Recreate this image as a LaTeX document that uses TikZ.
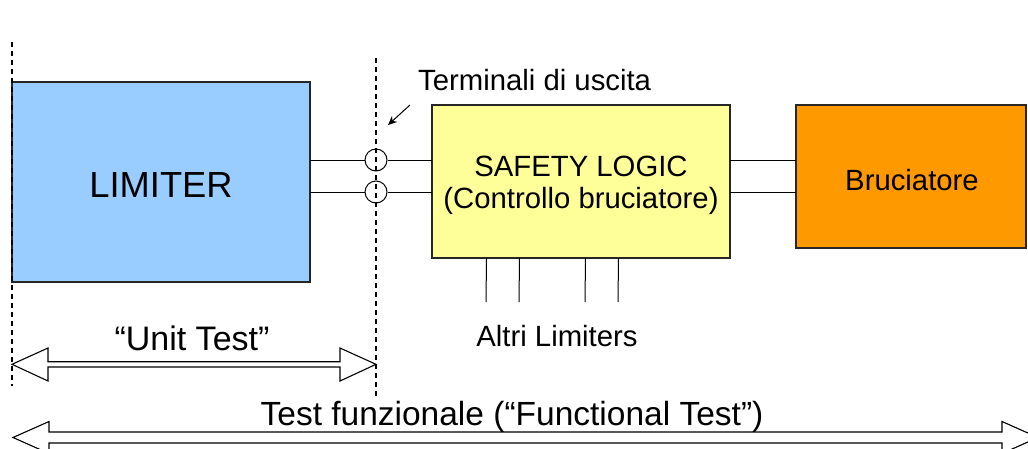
\documentclass[tikz,border=0pt]{standalone}
\usepackage{fontspec}
\setmainfont{Liberation Sans}
\usetikzlibrary{arrows.meta}
\tikzset{
  blk/.style={draw=black!85, line width=1.3pt, inner sep=0pt},
  wire/.style={draw=black, line width=1pt},
  guide/.style={draw=black, line width=1.1pt, dash pattern=on 5pt off 4pt},
  term/.style={draw=black, line width=1pt, circle, minimum size=22pt, inner sep=0pt},
  hollow/.style={draw=black, line width=1.1pt, fill=white, line join=miter},
  lbl/.style={inner sep=0pt, anchor=base, font=\fontsize{29.3}{32}\selectfont},
}
\definecolor{limblue}{HTML}{99CCFF}
\definecolor{safyel}{HTML}{FFFF99}
\definecolor{burnor}{HTML}{FF9900}
\begin{document}
\begin{tikzpicture}[x=1pt,y=-1pt]
\useasboundingbox (0,0) rectangle (1028,448);
% boxes
\node[blk, fill=limblue, minimum width=298pt, minimum height=200pt] (lim) at (161,182) {};
\node[lbl, font=\fontsize{36.3}{40}\selectfont] (limt) at (161,197) {LIMITER};
\node[blk, fill=safyel, minimum width=298pt, minimum height=153pt] (saf) at (581,181.5) {};
\node[lbl] (saft1) at (581,176) {SAFETY LOGIC};
\node[lbl] (saft2) at (581,208) {(Controllo bruciatore)};
\node[blk, fill=burnor, minimum width=230pt, minimum height=143pt] (bru) at (911,176.5) {};
\node[lbl] (brut) at (912,190) {Bruciatore};
% dashed guides
\coordinate (gl1) at (12,42);
\coordinate (gl2) at (12,386);
\coordinate (gm1) at (376,58);
\coordinate (gm2) at (376,398);
\draw[guide] (gl1) -- (gl2);
\draw[guide] (gm1) -- (gm2);
% terminals
\node[term] (t1) at (376,160) {};
\node[term] (t2) at (376,192) {};
\coordinate (l1) at (310,160);
\coordinate (l2) at (310,192);
\coordinate (s1) at (432,160);
\coordinate (s2) at (432,192);
\draw[wire] (l1) -- (t1) -- (s1);
\draw[wire] (l2) -- (t2) -- (s2);
\coordinate (so1) at (730,160);
\coordinate (so2) at (730,192);
\coordinate (b1) at (796,160);
\coordinate (b2) at (796,192);
\draw[wire] (so1) -- (b1);
\draw[wire] (so2) -- (b2);
% other limiters
\foreach \x [count=\i] in {486,519,585,618}{
  \coordinate (a\i) at (\x+0.5,258);
  \coordinate (b\i) at (\x,302);
  \draw[wire] (a\i) -- (b\i);
}
\node[lbl] (alt) at (557,346) {Altri Limiters};
% terminal label
\node[lbl, anchor=base west] (term) at (418,90) {Terminali di uscita};
\coordinate (pa) at (410,105);
\coordinate (pb) at (388,125);
\draw[wire, -{Stealth[length=9pt,width=8pt]}] (pa) -- (pb);
% unit test arrow
\draw[hollow] (12,364.3) -- (48,348) -- (48,361.7) -- (340,361.7) -- (340,348) -- (376,364.3)
  -- (340,381) -- (340,367) -- (48,367) -- (48,381) -- cycle;
\node[lbl, font=\fontsize{34}{36}\selectfont] (unit) at (192,350) {“Unit Test”};
% functional test arrow
\draw[hollow] (13,437.5) -- (49,421.5) -- (49,432) -- (1002,432) -- (1002,421.5) -- (1038,437.5)
  -- (1002,453.5) -- (1002,443) -- (49,443) -- (49,453.5) -- cycle;
\node[lbl, font=\fontsize{33.5}{36}\selectfont] (func) at (512,425) {Test funzionale (“Functional Test”)};
\end{tikzpicture}
\end{document}
